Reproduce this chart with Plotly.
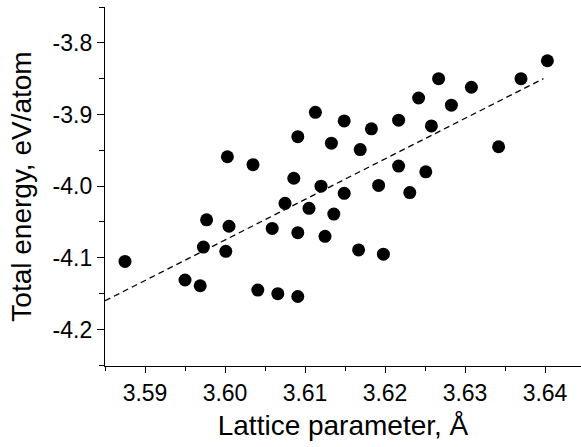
import plotly.graph_objects as go

lattice = [3.5875, 3.5950, 3.5969, 3.5973, 3.5977, 3.6001, 3.6005, 3.6041, 3.6066, 3.6091,
           3.6059, 3.6075, 3.6091, 3.6105, 3.6125, 3.6136, 3.6003, 3.6035, 3.6086, 3.6091,
           3.6113, 3.6120, 3.6133, 3.6149, 3.6149, 3.6169, 3.6183, 3.6192, 3.6217, 3.6217,
           3.6231, 3.6242, 3.6251, 3.6258, 3.6267, 3.6283, 3.6308, 3.6342, 3.6370, 3.6403,
           3.6167, 3.6198]
energy = [-4.105, -4.131, -4.139, -4.085, -4.047, -4.091, -4.056, -4.145, -4.150, -4.154,
          -4.059, -4.024, -4.065, -4.031, -4.070, -4.039, -3.959, -3.970, -3.989, -3.931,
          -3.897, -4.000, -3.940, -3.909, -4.010, -3.949, -3.920, -3.999, -3.908, -3.972,
          -4.009, -3.877, -3.980, -3.916, -3.850, -3.887, -3.862, -3.945, -3.850, -3.825,
          -4.089, -4.095]

fit_x = [3.585, 3.6398]
fit_y = [-4.160, -3.850]

x_tickvals = [3.59, 3.60, 3.61, 3.62, 3.63, 3.64]
x_ticktext = ["3.59", "3.60", "3.61", "3.62", "3.63", "3.64"]
y_tickvals = [-4.2, -4.1, -4.0, -3.9, -3.8]
y_ticktext = ["-4.2", "-4.1", "-4.0", "-3.9", "-3.8"]

font = "Arial, Liberation Sans, sans-serif"

fig = go.Figure()
fig.add_trace(go.Scatter(x=fit_x, y=fit_y, mode="lines",
                         line=dict(color="black", width=1.3, dash="6px,4px"),
                         showlegend=False))
fig.add_trace(go.Scatter(x=lattice, y=energy, mode="markers",
                         marker=dict(color="black", size=13),
                         showlegend=False))

fig.update_layout(
    width=581, height=447,
    margin=dict(l=105, r=0, t=7, b=81),
    plot_bgcolor="white", paper_bgcolor="white",
    font=dict(family=font, color="black"),
    xaxis=dict(
        range=[3.585, 3.6445], tickmode="array", tickvals=x_tickvals, ticktext=x_ticktext,
        showline=True, linecolor="black", linewidth=1.3, mirror=False,
        showgrid=False, zeroline=False,
        ticks="outside", ticklen=6, tickwidth=1.2, tickcolor="black",
        minor=dict(dtick=0.005, tick0=3.59, ticks="outside", ticklen=4, tickwidth=1.2, tickcolor="black"),
        tickfont=dict(size=23, family=font),
        title=dict(text="Lattice parameter, Å", font=dict(size=28, family=font), standoff=10),
    ),
    yaxis=dict(
        range=[-4.251, -3.75], tickmode="array", tickvals=y_tickvals, ticktext=y_ticktext,
        showline=True, linecolor="black", linewidth=1.3, mirror=False,
        showgrid=False, zeroline=False,
        ticks="outside", ticklen=7, tickwidth=1.2, tickcolor="black",
        minor=dict(dtick=0.05, tick0=-3.8, ticks="outside", ticklen=5, tickwidth=1.2, tickcolor="black"),
        tickfont=dict(size=23, family=font),
        title=dict(text="Total energy, eV/atom", font=dict(size=28, family=font), standoff=12),
    ),
)

fig.write_html("out.html")
